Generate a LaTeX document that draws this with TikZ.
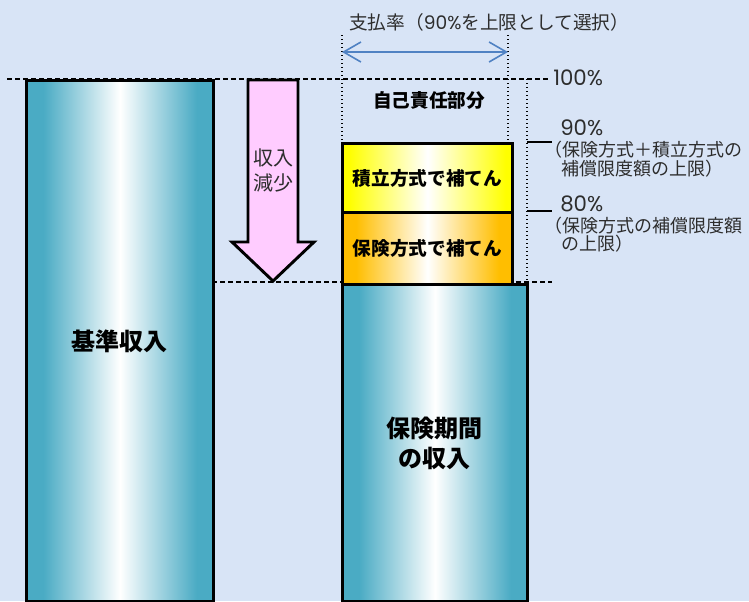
\documentclass[tikz,border=0pt]{standalone}
\usepackage{fontspec}
\setmainfont{Noto Sans CJK JP}
\newfontfamily\pctfont{Poppins}
\usetikzlibrary{arrows.meta,positioning}
\usepackage{xcolor}

\definecolor{barteal}{RGB}{74,171,196}
\definecolor{bgblue}{RGB}{216,228,246}
\definecolor{fillyellow}{RGB}{255,255,0}
\definecolor{fillorange}{RGB}{255,190,0}
\definecolor{arrowpink}{RGB}{255,204,255}
\definecolor{spanblue}{RGB}{80,130,195}
\definecolor{labelgray}{RGB}{45,45,45}

\pgfdeclarehorizontalshading{tealbar}{100bp}{color(0bp)=(barteal); color(29.5bp)=(barteal); color(50bp)=(white); color(70.5bp)=(barteal); color(100bp)=(barteal)}
\pgfdeclarehorizontalshading{yellowbar}{100bp}{color(0bp)=(fillyellow); color(27bp)=(fillyellow); color(50bp)=(white); color(73bp)=(fillyellow); color(100bp)=(fillyellow)}
\pgfdeclarehorizontalshading{orangebar}{100bp}{color(0bp)=(fillorange); color(29bp)=(fillorange); color(50bp)=(white); color(71bp)=(fillorange); color(100bp)=(fillorange)}

\newcommand{\pc}[1]{{\pctfont #1}}

\begin{document}
\begin{tikzpicture}[x=0.75pt,y=-0.75pt]
                \tikzstyle{bar} = [draw=black, line width=2.2pt, anchor=north west, inner sep=0pt, align=center, font=\bfseries\fontsize{18}{22.5}\selectfont];
                \tikzstyle{cover} = [bar, font=\bfseries\fontsize{14}{17}\selectfont];
                \tikzstyle{level} = [line width=2.2pt, dash pattern=on 3.75pt off 2.25pt];
                \tikzstyle{guide} = [line width=1pt, dotted];
                \tikzstyle{tick} = [line width=2.2pt];
                \tikzstyle{pct} = [anchor=west, inner sep=0pt, text height=11pt, text depth=0pt, text=labelgray, font=\pctfont\fontsize{16}{19}\selectfont];
                \tikzstyle{note} = [anchor=west, inner sep=0pt, text=labelgray, font=\fontsize{13.5}{14}\selectfont];

                \fill[bgblue] (0,0) rectangle (749,601);
                \useasboundingbox (0,0) rectangle (749,601);

                % levels and guides
                \draw[level] (7,79) -- (548,79);
                \draw[level] (212,282) -- (552,282);
                \draw[guide] (342,35) -- (342,142);
                \draw[guide] (508,35) -- (508,142);
                \draw[guide] (527,79) -- (527,283);

                \node[bar, shade, shading=tealbar, minimum width=140.25pt, minimum height=390.75pt] (K) at (25,79) {基準収入};
                \node[bar, shade, shading=tealbar, minimum width=138.75pt, minimum height=237.75pt] (P) at (341,283) {保険期間\\の収入};
                \node[cover, shade, shading=yellowbar, minimum width=127.5pt, minimum height=51.75pt] (T) at (341,142) {積立方式で補てん};
                \node[cover, shade, shading=orangebar, minimum width=127.5pt, minimum height=54pt] (H) at (341,211) {保険方式で補てん};
                \node[font=\bfseries\fontsize{14}{17}\selectfont] (S) at (429,100) {自己責任部分};

                % income drop
                \draw[line width=2.2pt, fill=arrowpink] (248,80) -- (298,80) -- (298,242) -- (314,242) -- (273,281) -- (232,242) -- (248,242) -- cycle;
                \node[align=center, text=labelgray, font=\fontsize{15}{18.75}\selectfont] (D) at (273,170) {収入\\減少};

                % payout span
                \coordinate (SL) at (342,52);
                \coordinate (SR) at (508,52);
                \draw[{Straight Barb[length=13pt,width=15pt]}-{Straight Barb[length=13pt,width=15pt]}, spanblue, line width=1.2pt] (SL) -- (SR);
                \node[anchor=west, inner sep=0pt, text=labelgray, font=\fontsize{14}{17}\selectfont] (Q) at (349,22) {支払率（\pc{90\%}を上限として選択）};

                \coordinate (C90) at (527,142);
                \coordinate (C80) at (527,211);
                \draw[tick] (C90) -- ++(25,0);
                \draw[tick] (C80) -- ++(25,0);

                \node[pct] (L100) at (553,78) {100\%};
                \node[pct] (L90) at (560,128) {90\%};
                \node[note] (N90a) at (544,150) {（保険方式＋積立方式の};
                \node[note] (N90b) at (561,169) {補償限度額の上限）};
                \node[pct] (L80) at (560,204) {80\%};
                \node[note] (N80a) at (544,226) {（保険方式の補償限度額};
                \node[note] (N80b) at (561,244) {の上限）};
            \end{tikzpicture}
\end{document}
